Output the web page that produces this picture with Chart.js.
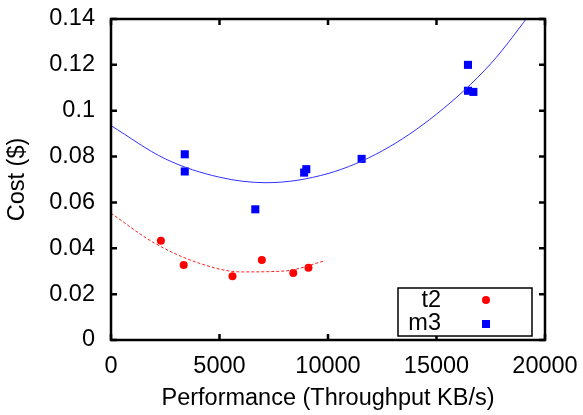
<!DOCTYPE html>
<html lang="en">
<head>
  <meta charset="UTF-8" />
  <title>Cost vs Performance</title>
  <script src="https://cdn.jsdelivr.net/npm/chart.js"></script>
  <style>
    body { margin: 0; background: #fff; }
    #wrap { width: 583px; height: 415px; }
  </style>
</head>
<body>
<div id="wrap"><canvas id="costChart"></canvas></div>

<script>
// measured points
const t2X = [2300, 3350, 5600, 6950, 8400, 9100];
const t2Y = [0.0433, 0.0327, 0.0278, 0.0349, 0.0292, 0.0315];
const m3X = [3400, 3400, 6650, 8900, 9000, 11550, 16450, 16450, 16700];
const m3Y = [0.081, 0.0735, 0.057, 0.073, 0.0745, 0.079, 0.120, 0.1087, 0.1082];

// fitted curves
const t2FitX = [0, 2000, 4000, 6000, 8000, 9870];
const t2FitY = [0.0553, 0.0423, 0.0337, 0.0297, 0.0301, 0.0346];
const m3FitX = [0, 2500, 5000, 7150, 10000, 12500, 15000, 17500, 19500];
const m3FitY = [0.0935, 0.079, 0.071, 0.0686, 0.0726, 0.0825, 0.0985, 0.1205, 0.1445];

const xTicks = [0, 5000, 10000, 15000, 20000];
const yTicks = [0, 0.02, 0.04, 0.06, 0.08, 0.1, 0.12, 0.14];
const seriesNames = ['t2', 'm3'];

const FONT = "'Liberation Sans', Helvetica, Arial, sans-serif";
const FS = 23.5;
const pts = (xs, ys) => xs.map((x, i) => ({ x: x, y: ys[i] }));

// gnuplot style frame with inward ticks on all sides
const framePlugin = {
  id: 'frame',
  afterDatasetsDraw(chart) {
    const { ctx, chartArea: a, scales: { x, y } } = chart;
    ctx.save();
    ctx.strokeStyle = '#000';
    ctx.lineWidth = 2.5;
    ctx.beginPath();
    xTicks.forEach(v => {
      const px = x.getPixelForValue(v);
      ctx.moveTo(px, a.bottom); ctx.lineTo(px, a.bottom - 6);
      ctx.moveTo(px, a.top); ctx.lineTo(px, a.top + 6);
    });
    yTicks.forEach(v => {
      const py = y.getPixelForValue(v);
      ctx.moveTo(a.left, py); ctx.lineTo(a.left + 6, py);
      ctx.moveTo(a.right, py); ctx.lineTo(a.right - 6, py);
    });
    ctx.stroke();
    ctx.strokeRect(a.left, a.top, a.right - a.left, a.bottom - a.top);
    ctx.restore();
  }
};

const legendPlugin = {
  id: 'boxLegend',
  afterDraw(chart) {
    const { ctx } = chart;
    const bx = 398, by = 288, bw = 134, bh = 48;
    ctx.save();
    ctx.fillStyle = '#fff';
    ctx.fillRect(bx, by, bw, bh);
    ctx.strokeStyle = '#000';
    ctx.lineWidth = 1.5;
    ctx.strokeRect(bx, by, bw, bh);
    ctx.font = FS + 'px ' + FONT;
    ctx.textAlign = 'right';
    ctx.textBaseline = 'middle';
    ctx.fillStyle = '#000';
    ctx.fillText(seriesNames[0], 441, 301);
    ctx.fillText(seriesNames[1], 441, 324);
    ctx.fillStyle = '#ff0000';
    ctx.beginPath(); ctx.arc(486, 300, 4, 0, Math.PI * 2); ctx.fill();
    ctx.fillStyle = '#0000ff';
    ctx.fillRect(482, 320, 8, 8);
    ctx.restore();
  }
};

new Chart(document.getElementById('costChart'), {
  type: 'scatter',
  data: {
    datasets: [
      { label: 'm3 fit', type: 'line', data: pts(m3FitX, m3FitY), borderColor: '#3030ff', borderWidth: 1,
        pointRadius: 0, cubicInterpolationMode: 'monotone', fill: false },
      { label: 't2 fit', type: 'line', data: pts(t2FitX, t2FitY), borderColor: '#ff2020', borderWidth: 1,
        borderDash: [3, 2], pointRadius: 0, cubicInterpolationMode: 'monotone', fill: false },
      { label: seriesNames[0], data: pts(t2X, t2Y), backgroundColor: '#ff0000', borderWidth: 0,
        pointStyle: 'circle', pointRadius: 4 },
      { label: seriesNames[1], data: pts(m3X, m3Y), backgroundColor: '#0000ff', borderWidth: 0,
        pointStyle: 'rect', pointRadius: 5.7 }
    ]
  },
  options: {
    responsive: true,
    maintainAspectRatio: false,
    animation: false,
    layout: { padding: { left: 0, top: 19, right: 38, bottom: 2 } },
    plugins: { legend: { display: false }, tooltip: { enabled: false } },
    scales: {
      x: {
        type: 'linear', min: 0, max: 20000,
        afterFit: s => { s.height = 73; s.paddingLeft = 0; s.paddingRight = 0; },
        afterBuildTicks: s => { s.ticks = xTicks.map(v => ({ value: v })); },
        grid: { display: false, drawTicks: false }, border: { display: false },
        ticks: { color: '#000', font: { family: FONT, size: FS }, padding: 12, maxRotation: 0,
          callback: v => String(v) },
        title: { display: true, text: 'Performance (Throughput KB/s)', color: '#000',
          font: { family: FONT, size: FS }, padding: { top: 0, bottom: 0 } }
      },
      y: {
        type: 'linear', min: 0, max: 0.14,
        afterFit: s => { s.width = 111; s.paddingTop = 0; s.paddingBottom = 0; },
        afterBuildTicks: s => { s.ticks = yTicks.map(v => ({ value: v })); },
        grid: { display: false, drawTicks: false }, border: { display: false },
        ticks: { color: '#000', font: { family: FONT, size: FS }, padding: 16,
          callback: v => String(Number(v.toFixed(2))) },
        title: { display: true, text: 'Cost ($)', color: '#000',
          font: { family: FONT, size: FS }, padding: { top: 3, bottom: 0 } }
      }
    }
  },
  plugins: [framePlugin, legendPlugin]
});
</script>
</body>
</html>
